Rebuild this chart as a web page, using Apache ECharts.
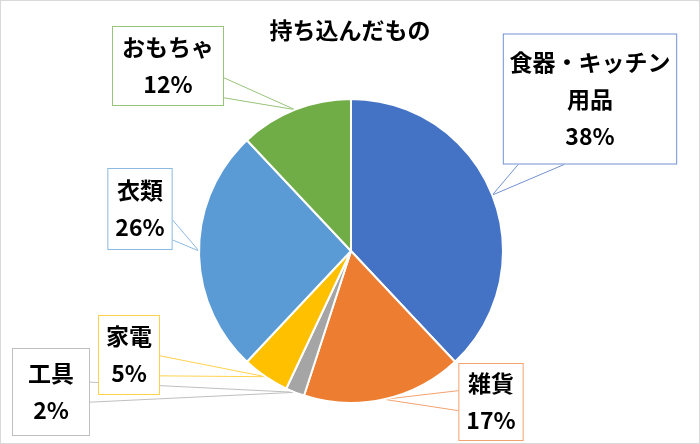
<!DOCTYPE html>
<html>
<head>
<meta charset="utf-8">
<script src="https://cdn.jsdelivr.net/npm/echarts@6/dist/echarts.min.js"></script>
<style>
  html,body{margin:0;padding:0;background:#fff;}
  #chart{width:700px;height:444px;box-sizing:border-box;border:1px solid #d9d9d9;}
</style>
</head>
<body>
<div id="chart"></div>
<script>
(function(){
/* ---------- data ---------- */
const categories = ['食器・キッチン\n用品','雑貨','工具','家電','衣類','おもちゃ'];
const shares     = [38, 17, 2, 5, 26, 12];   // %
const sliceColors = ['#4472C4','#ED7D31','#A5A5A5','#FFC000','#5B9BD5','#70AD47'];
const boxColors   = ['#7291D2','#F3A271','#BFBFBF','#FFD24D','#8CB9E2','#97C47A'];

/* ---------- callout layout ---------- */
const labelPos = [[589,98],[490,401],[50,391],[128,354],[139,208],[167,65]];
const labelPad = [[9,14],[1,7],[6,15],[2,7],[3,7],[2,9]];

function clamp(v,a,b){ return Math.max(a,Math.min(b,v)); }

// wedge-shaped pointer: box side -> slice edge -> box side
function callout(p){
  const c = labelPos[p.dataIndex];
  const w = p.labelRect.width, h = p.labelRect.height;
  const L = c[0]-w/2, R = c[0]+w/2, T = c[1]-h/2, B = c[1]+h/2;
  const s = p.labelLinePoints ? p.labelLinePoints[0] : null;
  const out = {x:c[0],y:c[1],align:'center',verticalAlign:'middle'};
  if(!s) return out;
  const dx = s[0]>R ? s[0]-R : (s[0]<L ? L-s[0] : 0);
  const dy = s[1]>B ? s[1]-B : (s[1]<T ? T-s[1] : 0);
  let a,b;
  if(dx>=dy){
    const x = s[0]>c[0] ? R : L;
    const m = clamp((c[1]+s[1])/2, T+11, B-11);
    a=[x,m-10]; b=[x,m+10];
  }else{
    const y = s[1]>c[1] ? B : T;
    const m = clamp((c[0]+s[0])/2, L+24, R-24);
    a=[m-23,y]; b=[m+23,y];
  }
  out.labelLinePoints=[a,s,b];
  return out;
}

const chart = echarts.init(document.getElementById('chart'));
chart.setOption({
  animation:false,
  title:{
    text:'持ち込んだもの', left:'center', top:13,
    textStyle:{fontFamily:'Noto Sans CJK JP',fontSize:23,fontWeight:'bold',color:'#000'}
  },
  series:[{
    type:'pie',
    center:[350,250],
    radius:152,
    startAngle:90,
    clockwise:true,
    itemStyle:{borderColor:'#fff',borderWidth:2},
    label:{
      show:true,
      formatter:'{b}\n{d}%',
      fontFamily:'Noto Sans CJK JP',
      fontSize:23,
      fontWeight:'bold',
      color:'#000',
      lineHeight:37,
      align:'center',
      overflow:'none',
      backgroundColor:'#fff',
      borderWidth:1
    },
    labelLine:{show:true,length:10,length2:10,smooth:false,lineStyle:{width:1}},
    labelLayout:callout,
    data:categories.map((c,i)=>({
      name:c,
      value:shares[i],
      itemStyle:{color:sliceColors[i]},
      label:{borderColor:boxColors[i],padding:labelPad[i]},
      labelLine:{lineStyle:{color:boxColors[i]}}
    }))
  }]
});
})();
</script>
</body>
</html>
